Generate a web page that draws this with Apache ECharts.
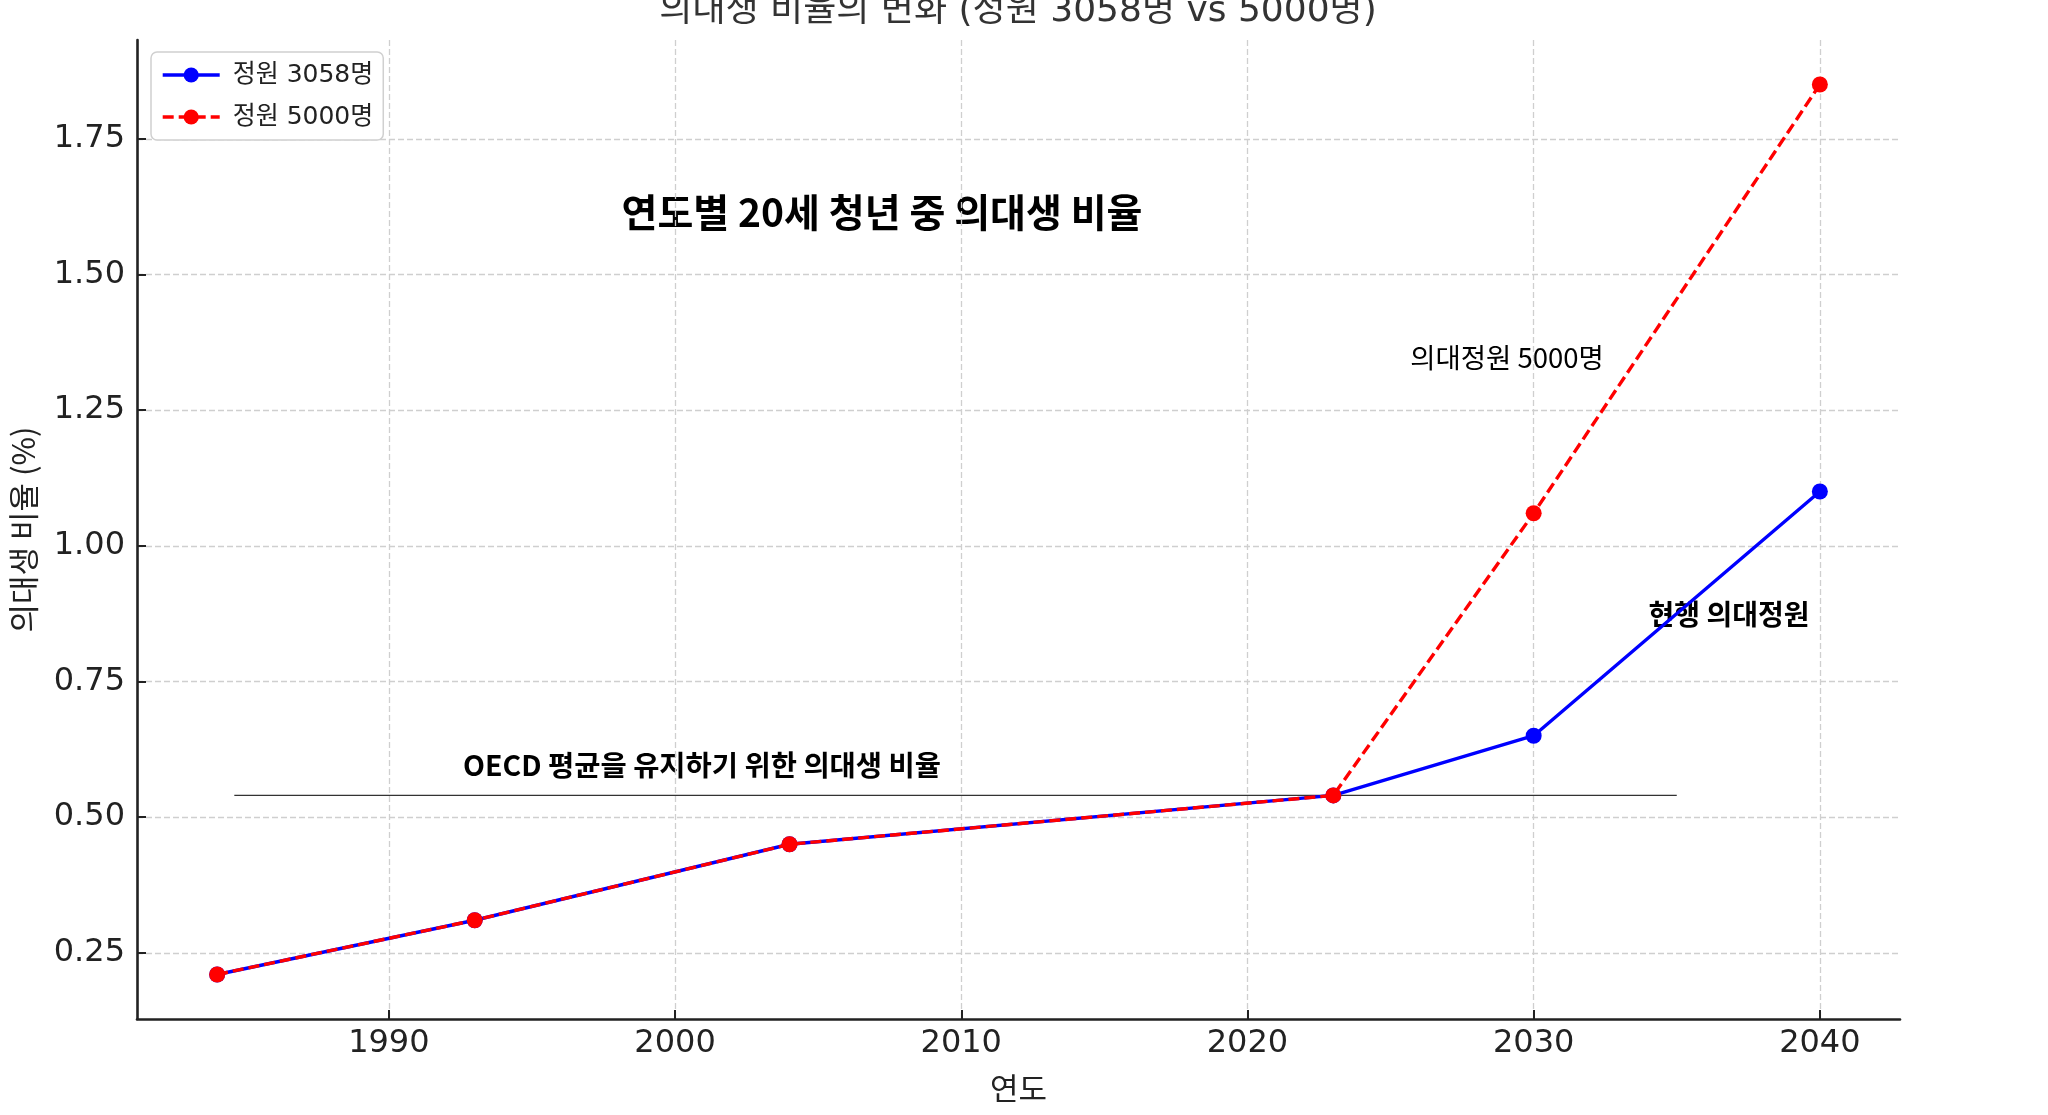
<!DOCTYPE html>
<html>
<head>
<meta charset="utf-8">
<script src="https://cdn.jsdelivr.net/npm/echarts@6/dist/echarts.min.js"></script>
<style>html,body{margin:0;padding:0;background:#fff}#c{width:2048px;height:1115px}</style>
</head>
<body>
<div id="c"></div>
<script>
const titleText = '의대생 비율의 변화 (정원 3058명 vs 5000명)';
const xName = '연도';
const yName = '의대생 비율 (%)';
const years = [1984, 1993, 2004, 2023, 2030, 2040];
const ratio3058 = [0.21, 0.31, 0.45, 0.54, 0.65, 1.10];
const ratio5000 = [0.21, 0.31, 0.45, 0.54, 1.06, 1.85];
const seriesNames = ['정원 3058명', '정원 5000명'];
const oecdLevel = 0.54;
const oecdSpan = [1984.6, 2035];
const xTicks = [1990, 2000, 2010, 2020, 2030, 2040];
const yTicks = [0.25, 0.50, 0.75, 1.00, 1.25, 1.50, 1.75];
const xRange = [1981.2, 2042.8];
const yRange = [0.128, 1.932];
const labels = {
  main: '연도별 20세 청년 중 의대생 비율',
  oecd: 'OECD 평균을 유지하기 위한 의대생 비율',
  plan: '의대정원 5000명',
  current: '현행 의대정원'
};

const latin = 'DejaVu Sans, Noto Sans CJK KR, sans-serif';
const kr = 'Noto Sans CJK KR, DejaVu Sans, sans-serif';

const chart = echarts.init(document.getElementById('c'), null, {renderer: 'canvas'});
const gridLine = {show: true, lineStyle: {color: '#cfcfcf', width: 1.3, type: [6, 3]}};

chart.setOption({
  backgroundColor: '#ffffff',
  animation: false,
  grid: {left: 137, right: 148, top: 40, bottom: 96, containLabel: false},
  legend: {
    orient: 'vertical', left: 151, top: 52,
    padding: [9, 10, 9, 10],
    backgroundColor: '#ffffff', borderColor: '#d0d0d0', borderWidth: 1.5, borderRadius: 6,
    itemWidth: 57, itemHeight: 19, itemGap: 14,
    textStyle: {fontFamily: latin, fontSize: 25, color: '#222', lineHeight: 28, padding: [0, 0, 0, 8]},
    data: [
      {name: seriesNames[0], lineStyle: {width: 3.4, color: '#0000ff'}},
      {name: seriesNames[1], lineStyle: {width: 3.4, color: '#ff0000', type: [11, 5]}}
    ]
  },
  xAxis: {
    type: 'value', min: xRange[0], max: xRange[1],
    name: xName, nameLocation: 'middle', nameGap: 54,
    nameTextStyle: {fontFamily: kr, fontSize: 31, color: '#222'},
    axisLine: {show: true, onZero: false, lineStyle: {color: '#222', width: 2.6}},
    axisTick: {show: true, inside: true, length: 9, lineStyle: {color: '#222', width: 2}, customValues: xTicks},
    axisLabel: {fontFamily: latin, fontSize: 32, color: '#222', margin: 9, customValues: xTicks, formatter: v => String(v)},
    splitLine: gridLine
  },
  yAxis: {
    type: 'value', min: yRange[0], max: yRange[1],
    name: yName, nameLocation: 'middle', nameGap: 98, nameRotate: 90,
    nameTextStyle: {fontFamily: kr, fontSize: 31, color: '#222'},
    axisLine: {show: true, onZero: false, lineStyle: {color: '#222', width: 2.6}},
    axisTick: {show: true, inside: true, length: 9, lineStyle: {color: '#222', width: 2}, customValues: yTicks},
    axisLabel: {fontFamily: latin, fontSize: 32, color: '#222', margin: 12, customValues: yTicks, formatter: v => v.toFixed(2)},
    splitLine: gridLine
  },
  series: [
    {
      name: 'oecd', type: 'line', silent: true, symbol: 'none', z: 1,
      data: oecdSpan.map(x => [x, oecdLevel]),
      lineStyle: {color: '#333', width: 1.4}
    },
    {
      name: seriesNames[0], type: 'line', z: 3,
      data: years.map((y, i) => [y, ratio3058[i]]),
      symbol: 'circle', symbolSize: 16,
      lineStyle: {color: '#0000ff', width: 3.4},
      itemStyle: {color: '#0000ff'}
    },
    {
      name: seriesNames[1], type: 'line', z: 4,
      data: years.map((y, i) => [y, ratio5000[i]]),
      symbol: 'circle', symbolSize: 16,
      lineStyle: {color: '#ff0000', width: 3.4, type: [11, 5]},
      itemStyle: {color: '#ff0000'}
    }
  ],
  graphic: [
    {type: 'text', style: {x: 1018, y: 12, text: titleText, font: '36px ' + latin, fill: '#333', align: 'center', verticalAlign: 'middle'}},
    {type: 'text', style: {x: 882, y: 212, text: labels.main, font: 'bold 39px ' + kr, fill: '#000', align: 'center', verticalAlign: 'middle'}},
    {type: 'text', style: {x: 702, y: 765, text: labels.oecd, font: 'bold 28.5px ' + kr, fill: '#000', align: 'center', verticalAlign: 'middle'}},
    {type: 'text', style: {x: 1507, y: 358, text: labels.plan, font: '27.5px ' + kr, fill: '#000', align: 'center', verticalAlign: 'middle'}},
    {type: 'text', style: {x: 1729, y: 614, text: labels.current, font: 'bold 28px ' + kr, fill: '#000', align: 'center', verticalAlign: 'middle'}}
  ]
});
</script>
</body>
</html>
